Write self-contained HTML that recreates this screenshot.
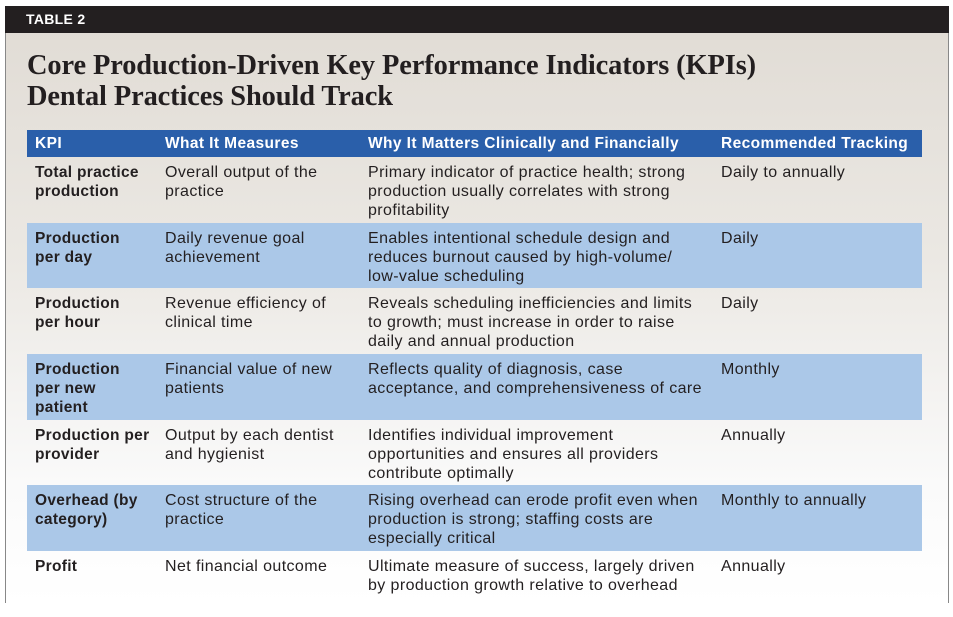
<!DOCTYPE html>
<html><head><style>
body{margin:0;width:953px;height:617px;background:#fff;position:relative;overflow:hidden;font-family:"Liberation Sans",sans-serif;color:#231f20}
.frame{position:absolute;left:5px;top:6px;width:942px;height:597px;border-left:1px solid #888;border-right:1px solid #888;background:linear-gradient(#e0dbd4 0px,#ebe8e3 250px,#fafafa 480px,#fff 597px)}
.bar{position:absolute;left:5px;top:6px;width:944px;height:27px;background:#231f20;color:#fff;font-weight:bold;font-size:14px;line-height:27px;padding-left:21px;box-sizing:border-box;letter-spacing:0.3px}
h1{position:absolute;left:27px;top:50px;margin:0;font-family:"Liberation Serif",serif;font-weight:bold;font-size:28.4px;line-height:31px;color:#231f20;letter-spacing:-0.1px}
table{position:absolute;left:27px;top:130px;width:895px;border-collapse:collapse;font-size:16px;line-height:19px;letter-spacing:0.4px}
th{background:#2a5faa;color:#fff;text-align:left;font-weight:bold;height:27px;padding:0 0 0 8px;font-size:15.5px;letter-spacing:0.4px}
tr.r{height:65.7px}
td{vertical-align:top;padding:6px 0 0 8px}
tr.b td{background:#abc8e8}
td.k{font-weight:bold;font-size:15.5px;letter-spacing:0.3px}
</style></head><body>
<div class="frame"></div>
<div class="bar">TABLE 2</div>
<h1>Core Production-Driven Key Performance Indicators (KPIs)<br>Dental Practices Should Track</h1>
<table>
<colgroup><col style="width:130px"><col style="width:203px"><col style="width:353px"><col></colgroup>
<tr><th>KPI</th><th>What It Measures</th><th>Why It Matters Clinically and Financially</th><th>Recommended Tracking</th></tr>
<tr class="r"><td class="k">Total practice<br>production</td><td>Overall output of the<br>practice</td><td>Primary indicator of practice health; strong<br>production usually correlates with strong<br>profitability</td><td>Daily to annually</td></tr>
<tr class="r b"><td class="k">Production<br>per day</td><td>Daily revenue goal<br>achievement</td><td>Enables intentional schedule design and<br>reduces burnout caused by high-volume/<br>low-value scheduling</td><td>Daily</td></tr>
<tr class="r"><td class="k">Production<br>per hour</td><td>Revenue efficiency of<br>clinical time</td><td>Reveals scheduling inefficiencies and limits<br>to growth; must increase in order to raise<br>daily and annual production</td><td>Daily</td></tr>
<tr class="r b"><td class="k">Production<br>per new<br>patient</td><td>Financial value of new<br>patients</td><td>Reflects quality of diagnosis, case<br>acceptance, and comprehensiveness of care</td><td>Monthly</td></tr>
<tr class="r"><td class="k">Production per<br>provider</td><td>Output by each dentist<br>and hygienist</td><td>Identifies individual improvement<br>opportunities and ensures all providers<br>contribute optimally</td><td>Annually</td></tr>
<tr class="r b"><td class="k">Overhead (by<br>category)</td><td>Cost structure of the<br>practice</td><td>Rising overhead can erode profit even when<br>production is strong; staffing costs are<br>especially critical</td><td>Monthly to annually</td></tr>
<tr class="r"><td class="k">Profit</td><td>Net financial outcome</td><td>Ultimate measure of success, largely driven<br>by production growth relative to overhead</td><td>Annually</td></tr>
</table>
</body></html>
